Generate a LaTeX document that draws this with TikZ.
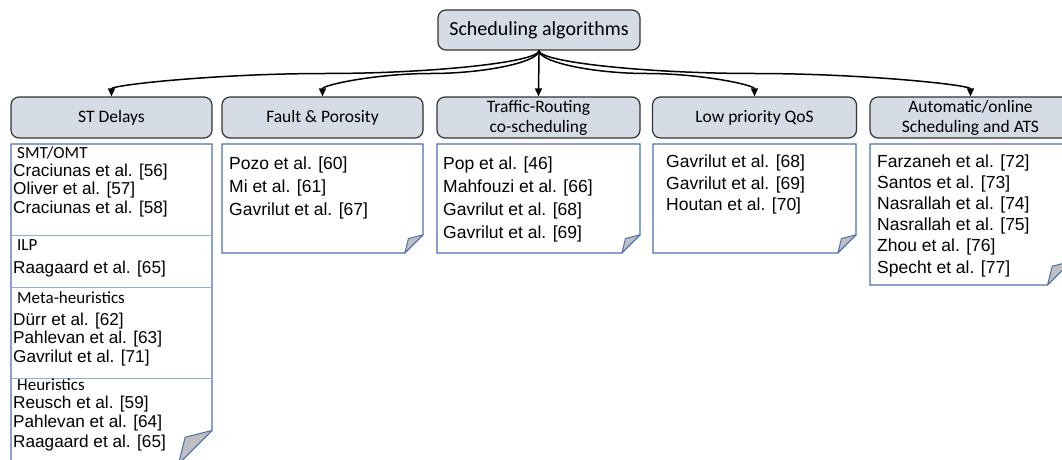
\documentclass[tikz,border=0pt]{standalone}
\usepackage{fontspec}
\setmainfont{Liberation Sans}
\newfontfamily\calfont{Carlito}
\usetikzlibrary{arrows.meta,calc}
\definecolor{headfill}{HTML}{D6DCE5}
\definecolor{headline}{HTML}{333333}
\definecolor{noteline}{HTML}{4A6FB5}
\definecolor{divline}{HTML}{8FAADC}
\definecolor{foldfill}{HTML}{BFBFBF}
\newcommand\foldnote[4]{%
  \pgfmathsetmacro\fw{#3-#1}\pgfmathsetmacro\fh{#4-#2}%
  \pgfmathsetmacro\fd{min(\fw,\fh)/6}\pgfmathsetmacro\fe{\fd/5}%
  \draw[notebox] (#1,#2) -- (#3,#2) -- (#3,#4-\fd) -- (#3-\fd,#4) -- (#1,#4) -- cycle;
  \draw[notefold] (#3-\fd,#4) -- (#3-\fd+\fe,#4-\fd+\fe) -- (#3,#4-\fd) -- cycle;
}
\newcommand\conn[2]{%
  \draw[arr] let \p1=(#1.south), \p2=(#2.north),
    \p3=($(\p1)!0.25!(\p2)$), \p4=($(\p1)!0.5!(\p2)$), \p5=($(\p1)!0.75!(\p2)$) in
    (\p1) .. controls (\x1,\y3) and (\x3,\y4) .. (\p4)
          .. controls (\x5,\y4) and (\x2,\y5) .. (\p2);
}
\begin{document}
\begin{tikzpicture}[x=1pt,y=-1pt,
  head/.style={draw=headline, fill=headfill, line width=1.2pt, rounded corners=8pt,
    minimum height=41pt, inner sep=0pt, align=center,
    font={\calfont\fontsize{17.5}{20}\selectfont}},
  notebox/.style={draw=noteline, fill=white, line width=1.2pt, line join=miter},
  notefold/.style={draw=noteline, fill=foldfill, line width=1pt, line join=round},
  divider/.style={draw=divline, line width=1pt},
  entry/.style={anchor=base west, inner sep=0pt, font={\fontsize{17.5}{21}\selectfont}},
  sentry/.style={anchor=base west, inner sep=0pt, font={\fontsize{17.2}{21}\selectfont}},
  subhead/.style={anchor=base west, inner sep=0pt, font={\calfont\fontsize{17}{20}\selectfont}},
  arr/.style={draw=black, line width=1.5pt, -{Triangle[length=8pt,width=7pt]}}
]
\useasboundingbox (0,0) rectangle (1062,460);

% root
\node[head, minimum width=202pt, minimum height=40pt,
  font={\calfont\fontsize{20}{24}\selectfont}] (root) at (539,30) {Scheduling algorithms};

% headings
\node[head, minimum width=201pt] (st) at (111.5,117.5) {ST Delays};
\node[head, minimum width=201pt] (fp) at (322.5,117.5) {Fault \& Porosity};
\node[head, minimum width=203pt] (tr) at (538.5,117.5) {Traffic-Routing\\co-scheduling};
\node[head, minimum width=204pt] (lp) at (754.5,117.5) {Low priority QoS};
\node[head, minimum width=201pt] (au) at (970.5,117.5) {Automatic/online\\Scheduling and ATS};

% connectors
\conn{root}{st}
\conn{root}{fp}
\conn{root}{tr}
\conn{root}{lp}
\conn{root}{au}

% notes
\foldnote{11}{144}{212}{464}
\draw[divider] (11,235) -- (212,235);
\draw[divider] (11,287) -- (212,287);
\draw[divider] (11,378) -- (212,378);
\node[subhead] (s1) at (17,158) {SMT/OMT};
\node[sentry] (s2) at (13,176) {Craciunas et al. [56]};
\node[sentry] (s3) at (13,194.5) {Oliver et al. [57]};
\node[sentry] (s4) at (13,213) {Craciunas et al. [58]};
\node[subhead] (s5) at (17,250) {ILP};
\node[sentry] (s6) at (13,273) {Raagaard et al. [65]};
\node[subhead] (s7) at (17,303) {Meta-heuristics};
\node[sentry] (s8) at (13,325) {Dürr et al. [62]};
\node[sentry] (s9) at (13,343.5) {Pahlevan et al. [63]};
\node[sentry] (s10) at (13,362) {Gavrilut et al. [71]};
\node[subhead] (s11) at (17,390) {Heuristics};
\node[sentry] (s12) at (13,408.5) {Reusch et al. [59]};
\node[sentry] (s13) at (13,427.5) {Pahlevan et al. [64]};
\node[sentry] (s14) at (13,447) {Raagaard et al. [65]};

\foldnote{222}{144}{423}{253}
\foreach \t [count=\i] in {Pozo et al. [60], Mi et al. [61], Gavrilut et al. [67]}
  \node[entry] (f\i) at (229,{169+23*(\i-1)}) {\t};

\foldnote{437}{144}{640}{253}
\foreach \t [count=\i] in {Pop et al. [46], Mahfouzi et al. [66], Gavrilut et al. [68], Gavrilut et al. [69]}
  \node[entry] (t\i) at (443,{169+23*(\i-1)}) {\t};

\foldnote{653}{144}{856}{253}
\foreach \t [count=\i] in {Gavrilut et al. [68], Gavrilut et al. [69], Houtan et al. [70]}
  \node[entry] (l\i) at (666,{167.5+21.5*(\i-1)}) {\t};

\foldnote{870}{144}{1071}{285}
\foreach \t [count=\i] in {Farzaneh et al. [72], Santos et al. [73], Nasrallah et al. [74], Nasrallah et al. [75], Zhou et al. [76], Specht et al. [77]}
  \node[entry] (a\i) at (877,{167+21.2*(\i-1)}) {\t};
\end{tikzpicture}
\end{document}
